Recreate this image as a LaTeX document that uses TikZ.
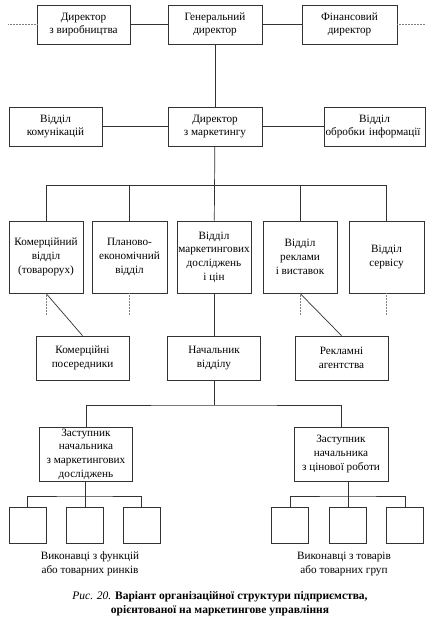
\documentclass[tikz,border=0pt]{standalone}
\usepackage{fontspec}
\setmainfont{Liberation Serif}
\begin{document}
\begin{tikzpicture}[x=1pt,y=-1pt,
  every node/.style={font=\fontsize{11.2}{13.7}\selectfont},
  box/.style={draw=black!80,line width=0.7pt,align=center,inner sep=1pt},
  ln/.style={draw=black!80,line width=0.7pt},
  dots/.style={draw=black!50,line width=0.5pt,densely dotted}]
\useasboundingbox (0,0) rectangle (436,617);
% row 1
\node[box,minimum width=93pt,minimum height=39pt] (dprod) at (83.5,24.5) {Директор\\з виробництва};
\node[box,minimum width=94pt,minimum height=39pt] (gen) at (215,24.5) {Генеральний\\директор};
\node[box,minimum width=95pt,minimum height=39pt] (fin) at (349.5,24.5) {Фінансовий\\директор};
\coordinate (dl) at (8,24.5);
\coordinate (dr) at (425,24.5);
% row 2
\node[box,minimum width=93pt,minimum height=39pt] (komm) at (55.5,126.5) {Відділ\\комунікацій};
\node[box,minimum width=94pt,minimum height=39pt] (dmark) at (215,126.5) {Директор\\з маркетингу};
\node[box,minimum width=99pt,minimum height=39pt,text width=99pt] (obr) at (374.5,126.5) {Відділ\\\hspace*{-3pt}обробки інформації\hspace*{-3pt}};
% row 3
\node[box,minimum width=74pt,minimum height=72pt] (k1) at (46,257) {Комерційний\\відділ\\(товарорух)};
\node[box,minimum width=75pt,minimum height=72pt] (k2) at (129.5,257) {Планово-\\економічний\\відділ};
\node[box,minimum width=74pt,minimum height=72pt] (k3) at (214,257) {Відділ\\маркетингових\\досліджень\\і цін};
\node[box,minimum width=74pt,minimum height=72pt] (k4) at (300,257) {Відділ\\реклами\\і виставок};
\node[box,minimum width=75pt,minimum height=72pt] (k5) at (386.5,257) {Відділ\\сервісу};
\coordinate (b1) at (214,185.7);
% row 4
\node[box,minimum width=93pt,minimum height=44pt] (posr) at (82.5,358) {Комерційні\\посередники};
\node[box,minimum width=93pt,minimum height=44pt] (nach) at (214,358) {Начальник\\відділу};
\node[box,minimum width=93pt,minimum height=44pt] (rekl) at (341.5,358) {Рекламні\\агентства};
\coordinate (b2) at (214,405);
% row 5
\node[box,minimum width=93pt,minimum height=54pt] (zl) at (86,454) {Заступник\\начальника\\з маркетингових\\досліджень};
\node[box,minimum width=94pt,minimum height=54pt] (zr) at (341,454) {Заступник\\начальника\\з цінової роботи};
\coordinate (lb) at (85,496);
\coordinate (rb) at (348,496);
% small boxes
\node[box,minimum width=37pt,minimum height=36pt] (l1) at (27.5,525) {};
\node[box,minimum width=37pt,minimum height=36pt] (l2) at (85,525) {};
\node[box,minimum width=37pt,minimum height=36pt] (l3) at (141.5,525) {};
\node[box,minimum width=37pt,minimum height=36pt] (r1) at (290,525) {};
\node[box,minimum width=37pt,minimum height=36pt] (r2) at (348,525) {};
\node[box,minimum width=37pt,minimum height=36pt] (r3) at (405,525) {};
% labels
\node[align=center] (lt) at (90,564) {Виконавці з функцій\\або товарних ринків};
\node[align=center] (rt) at (344,564) {Виконавці з товарів\\або товарних груп};
\node[align=center,font=\fontsize{11.5}{13.5}\selectfont] (cap) at (220,603.5) {\textit{Рис. 20.} \textbf{Варіант організаційної структури підприємства,}\\\textbf{орієнтованої на маркетингове управління}};
% connectors
\draw[dots] (dl) -- (dprod.west);
\draw[dots] (fin.east) -- (dr);
\draw[ln] (dprod) -- (gen);
\draw[ln] (gen) -- (fin);
\draw[ln] (gen) -- (dmark);
\draw[ln] (komm) -- (dmark);
\draw[ln] (dmark) -- (obr);
\draw[ln] (dmark) -- (k3);
\draw[ln] (k1.north) |- (b1) -| (k5.north);
\draw[ln] (k2.north) -- (k2.north |- b1);
\draw[ln] (k4.north) -- (k4.north |- b1);
\foreach \k in {k1,k2,k4,k5}{\draw[dots] (\k.south) -- ++(0,22);}
\draw[ln] (k1.south) -- (posr.north);
\draw[ln] (k4.south) -- (rekl.north);
\draw[ln] (k3) -- (nach);
\draw[ln] (nach.south) -- (b2);
\draw[ln] (zl.north) |- (b2) -| (zr.north);
\draw[ln] (zl.south -| lb) -- (lb);
\draw[ln] (l1.north) |- (lb) -| (l3.north);
\draw[ln] (lb) -- (l2.north);
\draw[ln] (zr.south -| rb) -- (rb);
\draw[ln] (r1.north) |- (rb) -| (r3.north);
\draw[ln] (rb) -- (r2.north);
\end{tikzpicture}
\end{document}
